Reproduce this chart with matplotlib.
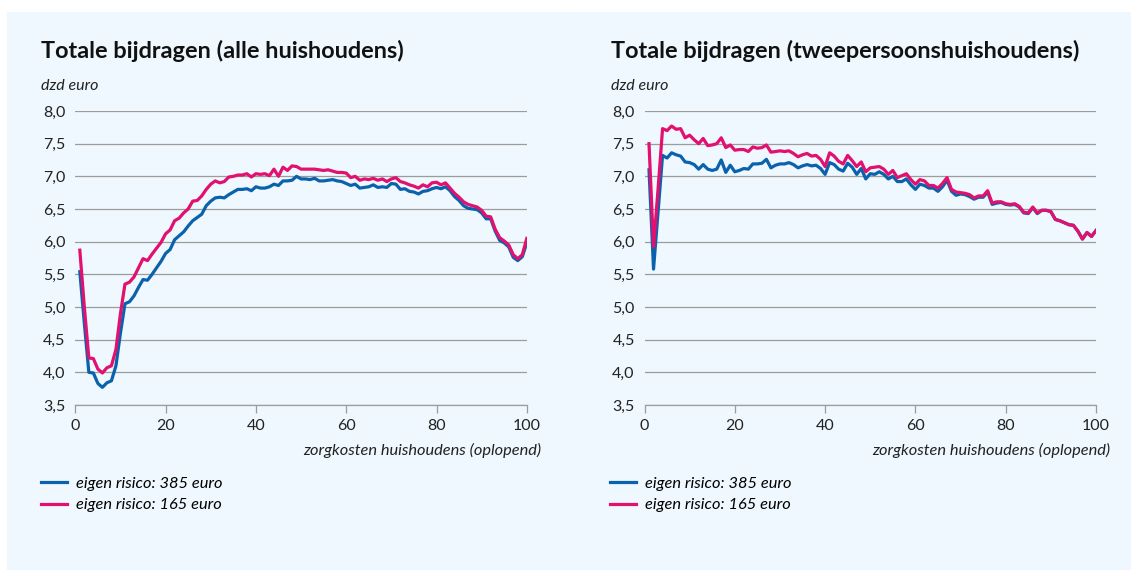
import numpy as np
import matplotlib.pyplot as plt
from matplotlib.patches import Rectangle

plt.rcParams['font.family'] = ['Lato', 'DejaVu Sans']

pct = np.arange(1, 101)

# alle huishoudens
alle_385 = [5.54, 4.75, 4.00, 3.99, 3.83, 3.77, 3.84, 3.87, 4.10, 4.60,
            5.05, 5.08, 5.17, 5.30, 5.42, 5.41, 5.50, 5.60, 5.70, 5.82,
            5.88, 6.03, 6.09, 6.15, 6.24, 6.32, 6.37, 6.42, 6.55, 6.62,
            6.67, 6.68, 6.67, 6.72, 6.76, 6.80, 6.80, 6.81, 6.78, 6.84,
            6.82, 6.82, 6.84, 6.88, 6.86, 6.93, 6.93, 6.94, 7.00, 6.96,
            6.96, 6.95, 6.97, 6.93, 6.93, 6.94, 6.95, 6.93, 6.92, 6.89,
            6.86, 6.88, 6.82, 6.83, 6.84, 6.87, 6.83, 6.84, 6.83, 6.89,
            6.88, 6.80, 6.81, 6.77, 6.76, 6.73, 6.77, 6.78, 6.81, 6.83,
            6.81, 6.84, 6.78, 6.69, 6.63, 6.55, 6.51, 6.50, 6.49, 6.44,
            6.35, 6.35, 6.16, 6.02, 5.98, 5.92, 5.76, 5.71, 5.77, 5.98]
alle_165 = [5.87, 5.00, 4.22, 4.21, 4.05, 3.99, 4.07, 4.10, 4.35, 4.90,
            5.35, 5.38, 5.46, 5.60, 5.74, 5.71, 5.81, 5.90, 5.99, 6.12,
            6.18, 6.32, 6.36, 6.44, 6.50, 6.62, 6.63, 6.70, 6.80, 6.88,
            6.93, 6.90, 6.92, 6.99, 7.00, 7.02, 7.02, 7.04, 6.99, 7.04,
            7.03, 7.04, 7.01, 7.11, 7.00, 7.14, 7.09, 7.16, 7.15, 7.11,
            7.11, 7.11, 7.11, 7.10, 7.09, 7.10, 7.08, 7.06, 7.06, 7.05,
            6.98, 7.00, 6.94, 6.96, 6.95, 6.97, 6.94, 6.96, 6.92, 6.96,
            6.98, 6.92, 6.90, 6.87, 6.85, 6.82, 6.87, 6.84, 6.90, 6.91,
            6.87, 6.90, 6.82, 6.74, 6.68, 6.61, 6.57, 6.55, 6.53, 6.48,
            6.39, 6.38, 6.19, 6.06, 6.01, 5.95, 5.80, 5.74, 5.80, 6.05]

# tweepersoonshuishoudens
twee_385 = [7.10, 5.58, 6.45, 7.32, 7.28, 7.36, 7.33, 7.31, 7.22, 7.21,
            7.18, 7.11, 7.18, 7.11, 7.09, 7.11, 7.25, 7.06, 7.17, 7.07,
            7.09, 7.12, 7.11, 7.19, 7.19, 7.20, 7.26, 7.13, 7.17, 7.19,
            7.19, 7.21, 7.18, 7.13, 7.16, 7.18, 7.16, 7.17, 7.12, 7.03,
            7.21, 7.18, 7.11, 7.08, 7.20, 7.14, 7.03, 7.12, 6.96, 7.04,
            7.03, 7.07, 7.03, 6.96, 7.00, 6.92, 6.92, 6.96, 6.87, 6.80,
            6.88, 6.86, 6.82, 6.82, 6.77, 6.84, 6.94, 6.77, 6.71, 6.73,
            6.72, 6.69, 6.65, 6.68, 6.68, 6.76, 6.57, 6.59, 6.60, 6.57,
            6.56, 6.57, 6.53, 6.44, 6.43, 6.52, 6.43, 6.48, 6.48, 6.46,
            6.34, 6.32, 6.29, 6.26, 6.25, 6.16, 6.04, 6.14, 6.08, 6.17]
twee_165 = [7.50, 5.92, 6.80, 7.73, 7.70, 7.77, 7.72, 7.73, 7.59, 7.63,
            7.56, 7.50, 7.58, 7.47, 7.48, 7.50, 7.59, 7.44, 7.48, 7.40,
            7.41, 7.41, 7.38, 7.45, 7.43, 7.44, 7.48, 7.37, 7.38, 7.39,
            7.38, 7.39, 7.35, 7.30, 7.33, 7.35, 7.31, 7.32, 7.26, 7.15,
            7.36, 7.31, 7.23, 7.19, 7.32, 7.24, 7.15, 7.22, 7.07, 7.13,
            7.14, 7.15, 7.11, 7.03, 7.09, 6.98, 7.01, 7.04, 6.95, 6.88,
            6.95, 6.93, 6.86, 6.86, 6.82, 6.89, 6.98, 6.80, 6.76, 6.75,
            6.74, 6.72, 6.67, 6.70, 6.70, 6.78, 6.59, 6.61, 6.61, 6.58,
            6.57, 6.58, 6.54, 6.45, 6.44, 6.53, 6.44, 6.48, 6.48, 6.46,
            6.34, 6.32, 6.29, 6.26, 6.25, 6.16, 6.04, 6.14, 6.08, 6.17]

titles = ["Totale bijdragen (alle huishoudens)",
          "Totale bijdragen (tweepersoonshuishoudens)"]
series_labels = ["eigen risico: 385 euro", "eigen risico: 165 euro"]
yticks = [3.5, 4.0, 4.5, 5.0, 5.5, 6.0, 6.5, 7.0, 7.5, 8.0]
ytick_labels = ["3,5", "4,0", "4,5", "5,0", "5,5", "6,0", "6,5", "7,0", "7,5", "8,0"]
xticks = [0, 20, 40, 60, 80, 100]

BLUE = "#0b62ac"
PINK = "#e2106e"
BG = "#eef8fe"
GRID = "#9c9c9c"
W, H = 1131, 570

fig = plt.figure(figsize=(W / 100, H / 100), dpi=100, facecolor="white")
# achtergrondvlakken, met een witte scheidingslijn ertussen
fig.patches.append(Rectangle((7 / W, -0.01), (574.5 - 7) / W, (H - 12) / H + 0.01,
                             transform=fig.transFigure, color=BG, zorder=-5))
fig.patches.append(Rectangle((576 / W, -0.01), (W - 576) / W + 0.01, (H - 12) / H + 0.01,
                             transform=fig.transFigure, color=BG, zorder=-5))

panels = [(75.3, alle_385, alle_165), (644.5, twee_385, twee_165)]
for i, (x0, s385, s165) in enumerate(panels):
    ax = fig.add_axes([x0 / W, (H - 405) / H, 451.5 / W, 294 / H])
    ax.set_facecolor("none")
    l1, = ax.plot(pct, s385, color=BLUE, lw=2.3, zorder=3, solid_joinstyle="round")
    l2, = ax.plot(pct, s165, color=PINK, lw=2.3, zorder=4, solid_joinstyle="round")
    ax.set_xlim(0, 100)
    ax.set_ylim(3.5, 8.0)
    ax.set_yticks(yticks)
    ax.set_yticklabels(ytick_labels)
    ax.set_xticks(xticks)
    for s in ["top", "right", "left"]:
        ax.spines[s].set_visible(False)
    ax.spines["bottom"].set_color(GRID)
    ax.spines["bottom"].set_linewidth(0.9)
    ax.yaxis.grid(True, color=GRID, lw=0.9)
    ax.set_axisbelow(True)
    ax.tick_params(axis="y", length=0, pad=7, labelsize=11.5, labelcolor="#222222")
    ax.tick_params(axis="x", length=6, width=0.9, color=GRID, pad=4,
                   labelsize=11.5, labelcolor="#222222")

    px = x0 - 34
    fig.text(px / W, (H - 58) / H, titles[i], fontsize=16.9, fontweight="bold",
             color="#111111", va="baseline", ha="left")
    fig.text(px / W, (H - 90) / H, "dzd euro", fontsize=11.5, style="italic",
             color="#222222", va="baseline", ha="left")
    fig.text((x0 + 466) / W, (H - 455) / H, "zorgkosten huishoudens (oplopend)",
             fontsize=11.8, style="italic", color="#222222", va="baseline", ha="right")
    ax.legend([l1, l2], series_labels, loc="upper left",
              bbox_to_anchor=((px - 7) / W, (H - 470) / H), bbox_transform=fig.transFigure,
              frameon=False, prop={"style": "italic", "size": 11.8},
              handlelength=1.6, handletextpad=0.55, labelspacing=0.42, borderaxespad=0)

fig.savefig("out.png", dpi=100, facecolor="white")
